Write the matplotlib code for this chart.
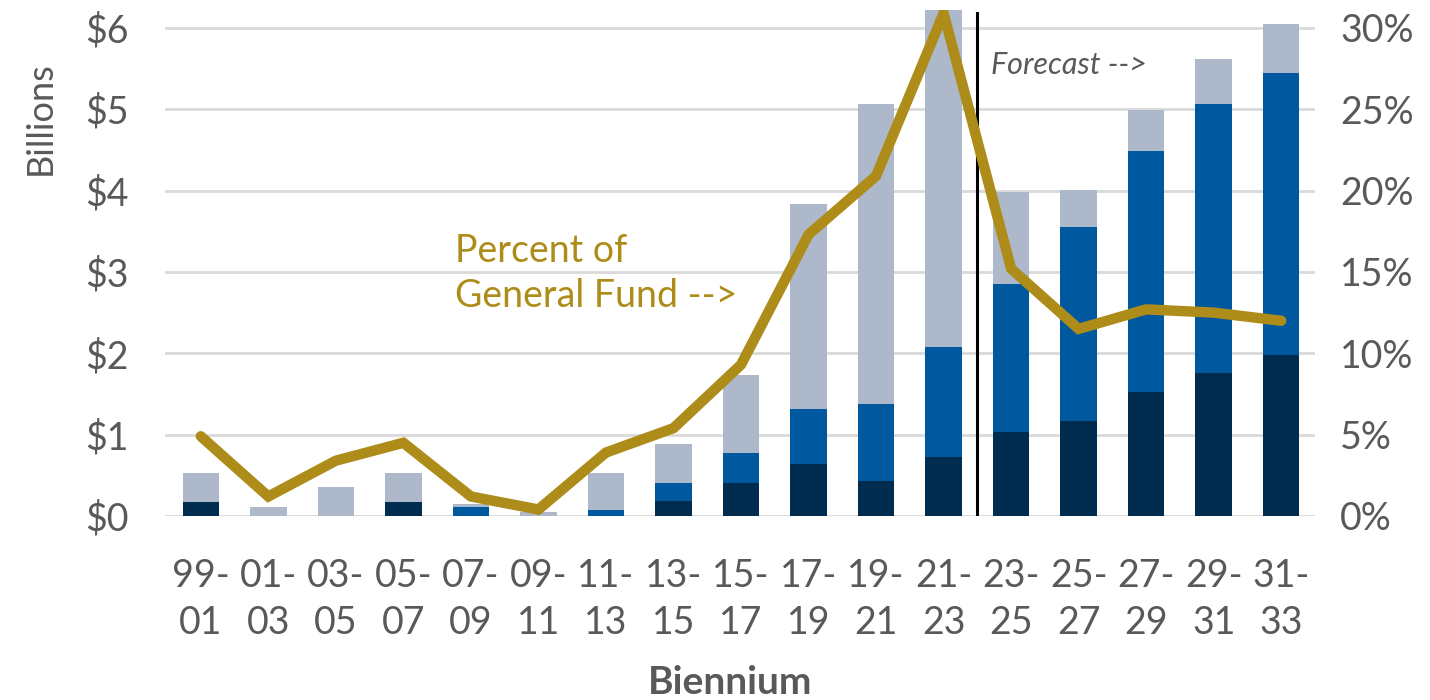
from matplotlib import pyplot as plt
import numpy as np

plt.rcParams['font.family'] = ['Lato', 'DejaVu Sans']

biennia = ['99-\n01', '01-\n03', '03-\n05', '05-\n07', '07-\n09', '09-\n11', '11-\n13', '13-\n15',
           '15-\n17', '17-\n19', '19-\n21', '21-\n23', '23-\n25', '25-\n27', '27-\n29', '29-\n31', '31-\n33']

# billions, stacked bottom -> top
dark = [0.17, 0.0, 0.0, 0.17, 0.0, 0.0, 0.0, 0.19, 0.40, 0.64, 0.43, 0.72, 1.03, 1.17, 1.52, 1.76, 1.98]
mid = [0.0, 0.0, 0.0, 0.0, 0.11, 0.0, 0.07, 0.21, 0.38, 0.67, 0.95, 1.36, 1.82, 2.38, 2.97, 3.30, 3.47]
light = [0.36, 0.11, 0.36, 0.36, 0.04, 0.05, 0.46, 0.49, 0.95, 2.52, 3.68, 4.30, 1.13, 0.46, 0.50, 0.56, 0.60]

# percent of general fund
pct = [4.9, 1.2, 3.4, 4.5, 1.2, 0.4, 3.9, 5.4, 9.3, 17.3, 20.9, 30.9, 15.2, 11.5, 12.7, 12.5, 12.0]

c_dark = '#002D4F'
c_mid = '#00589F'
c_light = '#ADB9CB'
c_gold = '#AD8C1A'
c_text = '#595959'

fig = plt.figure(figsize=(14.3, 7), dpi=100)
ax = fig.add_axes([165 / 1430, (700 - 516) / 700, (1315 - 165) / 1430, (516 - 10) / 700])

x = np.arange(len(biennia))
dark = np.array(dark)
mid = np.array(mid)
light = np.array(light)
w = 0.54
ax.bar(x, dark, w, color=c_dark, linewidth=0, zorder=2)
ax.bar(x, mid, w, bottom=dark, color=c_mid, linewidth=0, zorder=2)
ax.bar(x, light, w, bottom=dark + mid, color=c_light, linewidth=0, zorder=2)

ax.set_xlim(-0.53, 16.5)
ax.set_ylim(0, 6.22)
ax.set_yticks(range(7))
ax.set_yticklabels(['$%d' % v for v in range(7)])
ax.grid(axis='y', color='#D9D9D9', linewidth=2, zorder=0)
ax.set_axisbelow(True)
ax.set_xticks(x)
ax.set_xticklabels(biennia, linespacing=1.4)
ax.tick_params(axis='y', length=0, pad=26, labelsize=27, labelcolor=c_text)
ax.tick_params(axis='x', length=0, pad=30, labelsize=27, labelcolor=c_text)
for s in ax.spines.values():
    s.set_visible(False)

ax.axvline(11.5, ymin=0, ymax=0.995, color='black', linewidth=2.2, zorder=3)
ax.text(11.7, 5.55, 'Forecast -->', fontsize=22, style='italic', color=c_text, va='center', ha='left')

ax2 = ax.twinx()
ax2.plot(x, pct, color=c_gold, linewidth=7.5, solid_capstyle='round', solid_joinstyle='miter', zorder=4)
ax2.set_ylim(0, 31.1)
ax2.set_yticks(range(0, 31, 5))
ax2.set_yticklabels(['%d%%' % v for v in range(0, 31, 5)])
ax2.tick_params(axis='y', length=0, pad=18, labelsize=27, labelcolor=c_text)
for s in ax2.spines.values():
    s.set_visible(False)

ax.text(3.77, 2.98, 'Percent of\nGeneral Fund -->', fontsize=27, color=c_gold, va='center', ha='left',
        linespacing=1.3, zorder=5)

fig.text(40 / 1430, 1 - 118 / 700, 'Billions', rotation=90, fontsize=26, color=c_text, ha='center', va='center')
fig.text(730 / 1430, 1 - 683 / 700, 'Biennium', fontsize=28, fontweight='bold', color=c_text, ha='center', va='center')

fig.savefig('out.png', dpi=100)
